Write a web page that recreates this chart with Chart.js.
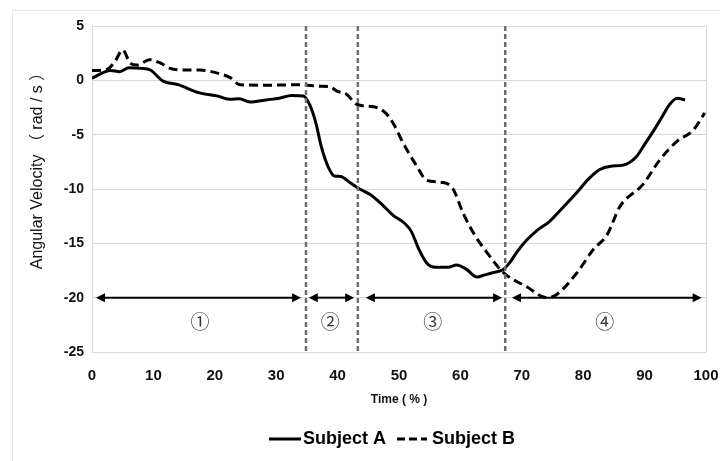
<!DOCTYPE html>
<html>
<head>
<meta charset="utf-8">
<script src="https://cdn.jsdelivr.net/npm/chart.js@4"></script>
<style>
  html, body { margin: 0; padding: 0; background: #fff; }
  #wrap { width: 720px; height: 461px; }
</style>
</head>
<body>
<div id="wrap"><canvas id="chart" width="720" height="461"></canvas></div>
<script>
// Subject A (solid) - time in %, angular velocity in rad/s
const timeA = [0, 2, 3, 4.5, 6, 8, 9.5, 11.5, 14, 17.5, 20.5, 22.5, 24, 25.7, 28.4, 30.5, 32.5, 34.4,
  35.5, 36.5, 37.3, 38.5, 39.5, 40.5, 42, 43.6, 45.3, 47, 49, 51, 52, 53.2, 54.5, 56, 58, 59.4,
  61, 62.7, 64, 65.3, 67, 68, 69.2, 70.8, 72.5, 74.5, 76.2, 79, 81, 82.7, 84.5, 86.5, 88.7, 90,
  91.4, 92.8, 94.1, 95.3, 96.6];
const subjectA = [0.2, 0.75, 0.9, 0.8, 1.15, 1.1, 0.95, -0.05, -0.4, -1.15, -1.45, -1.75, -1.7, -2.0, -1.8, -1.65, -1.4, -1.45,
  -2.3, -4.0, -6.0, -8.0, -8.8, -8.85, -9.4, -10.0, -10.5, -11.3, -12.4, -13.2, -13.9, -15.5, -16.8, -17.2, -17.2, -17.0,
  -17.4, -18.1, -17.9, -17.7, -17.4, -16.8, -15.8, -14.7, -13.8, -13.0, -12.0, -10.3, -9.0, -8.2, -7.9, -7.8, -7.0, -5.9,
  -4.7, -3.4, -2.2, -1.65, -1.8];

// Subject B (dashed)
const timeB = [0, 2.4, 3.7, 5, 6.2, 7.3, 9.4, 11.1, 12.7, 15, 17.6, 20.8, 22.5, 24.1, 28.5, 33.9, 37.1, 38.8,
  39.9, 41.5, 43.1, 46.4, 47.8, 49, 50.7, 52.9, 54.5, 57.2, 58.8, 60.5, 62.4, 64.8, 67, 70.8, 74.1, 75.7,
  79, 81.6, 83.9, 86, 89.7, 92.5, 95.3, 97.9, 99.8];
const subjectB = [0.9, 1.0, 1.7, 2.8, 1.6, 1.4, 1.9, 1.6, 1.1, 0.95, 0.95, 0.6, 0.25, -0.4, -0.45, -0.4, -0.55, -0.6,
  -1.0, -1.3, -2.2, -2.5, -3.0, -3.9, -5.8, -7.9, -9.2, -9.4, -10.0, -12.3, -14.3, -16.2, -17.7, -19.0, -20.0, -19.7,
  -17.7, -15.6, -14.2, -11.6, -9.6, -7.3, -5.6, -4.6, -3.0];

// phase boundaries, arrow spans and labels
const phaseBounds = [34.85, 43.3, 67.3];
const arrowStart = [0.65, 35.3, 44.6, 68.4];
const arrowEnd = [34.05, 42.7, 66.8, 99.3];
const arrowY = -20;
const phaseLabels = ['①', '②', '③', '④'];
const phaseLabelX = [17.6, 38.8, 55.5, 83.5];
const phaseLabelY = -22.2;

const yTicks = [5, 0, -5, -10, -15, -20, -25];
const xTicks = [0, 10, 20, 30, 40, 50, 60, 70, 80, 90, 100];

const seriesNames = ['Subject A', 'Subject B'];
const yTitle = 'Angular Velocity （ rad / s ）';
const xTitle = 'Time ( % )';

function toPoints(xs, ys) {
  return xs.map((x, i) => ({ x: x, y: ys[i] }));
}

const boundSets = phaseBounds.map(b => ({
  data: [{ x: b, y: 5 }, { x: b, y: -25 }],
  borderColor: '#6e6e6e',
  borderWidth: 2.5,
  borderDash: [5, 3],
  pointRadius: 0,
  order: 0
}));

// outer frame of the picture
const framePlugin = {
  id: 'frame',
  beforeDraw(chart) {
    const ctx = chart.ctx;
    ctx.save();
    ctx.strokeStyle = '#e6e6e6';
    ctx.lineWidth = 1;
    ctx.beginPath();
    ctx.moveTo(12.5, 461);
    ctx.lineTo(12.5, 10.5);
    ctx.lineTo(720, 10.5);
    ctx.stroke();
    ctx.restore();
  }
};

// arrows, circled phase numbers, y title
const phasePlugin = {
  id: 'phases',
  afterDatasetsDraw(chart) {
    const ctx = chart.ctx;
    const xs = chart.scales.x, ys = chart.scales.y;
    const py = ys.getPixelForValue(arrowY);
    const head = 9, half = 4.5;
    ctx.save();
    ctx.strokeStyle = '#000';
    ctx.fillStyle = '#000';
    ctx.lineWidth = 2;
    arrowStart.forEach((s, i) => {
      const x1 = xs.getPixelForValue(s);
      const x2 = xs.getPixelForValue(arrowEnd[i]);
      ctx.beginPath();
      ctx.moveTo(x1 + head - 1, py);
      ctx.lineTo(x2 - head + 1, py);
      ctx.stroke();
      ctx.beginPath();
      ctx.moveTo(x1, py);
      ctx.lineTo(x1 + head, py - half);
      ctx.lineTo(x1 + head, py + half);
      ctx.closePath();
      ctx.fill();
      ctx.beginPath();
      ctx.moveTo(x2, py);
      ctx.lineTo(x2 - head, py - half);
      ctx.lineTo(x2 - head, py + half);
      ctx.closePath();
      ctx.fill();
    });
    ctx.fillStyle = '#333';
    ctx.font = '19px "Noto Sans CJK JP", "DejaVu Sans", sans-serif';
    ctx.textAlign = 'center';
    ctx.textBaseline = 'middle';
    phaseLabels.forEach((t, i) => {
      ctx.fillText(t, xs.getPixelForValue(phaseLabelX[i]), ys.getPixelForValue(phaseLabelY));
    });

    ctx.save();
    ctx.translate(38, 167);
    ctx.rotate(-Math.PI / 2);
    ctx.fillStyle = '#111';
    ctx.font = '16px "Liberation Sans", "Noto Sans CJK JP", sans-serif';
    ctx.fillText(yTitle, 0, 0);
    ctx.restore();
    ctx.restore();
  }
};

// legend at the bottom
const legendPlugin = {
  id: 'bottomLegend',
  afterDraw(chart) {
    const ctx = chart.ctx;
    ctx.save();
    ctx.font = 'bold 18px "Liberation Sans", Arial, sans-serif';
    ctx.textBaseline = 'middle';
    ctx.textAlign = 'left';
    ctx.fillStyle = '#000';
    const wA = ctx.measureText(seriesNames[0]).width;
    const wB = ctx.measureText(seriesNames[1]).width;
    const lineLen = 32;
    const total = lineLen + 2 + wA + 11 + lineLen + 3 + wB;
    let x = 392 - total / 2;
    const y = 439;
    ctx.strokeStyle = '#000';
    ctx.lineWidth = 3;
    ctx.beginPath();
    ctx.moveTo(x, y);
    ctx.lineTo(x + lineLen, y);
    ctx.stroke();
    x += lineLen + 2;
    ctx.fillText(seriesNames[0], x, y);
    x += wA + 11;
    ctx.setLineDash([8, 4, 8, 4, 6, 3, 2, 20]);
    ctx.beginPath();
    ctx.moveTo(x, y);
    ctx.lineTo(x + lineLen, y);
    ctx.stroke();
    ctx.setLineDash([]);
    x += lineLen + 3;
    ctx.fillText(seriesNames[1], x, y);
    ctx.restore();
  }
};

new Chart(document.getElementById('chart'), {
  type: 'line',
  data: {
    datasets: [
      {
        label: seriesNames[0],
        data: toPoints(timeA, subjectA),
        borderColor: '#000',
        borderWidth: 3,
        pointRadius: 0,
        cubicInterpolationMode: 'monotone',
        order: 1
      },
      {
        label: seriesNames[1],
        data: toPoints(timeB, subjectB),
        borderColor: '#000',
        borderWidth: 3,
        borderDash: [9, 5],
        pointRadius: 0,
        cubicInterpolationMode: 'monotone',
        order: 2
      },
      ...boundSets
    ]
  },
  options: {
    responsive: false,
    animation: false,
    layout: { padding: { left: 0, right: 0, top: 26, bottom: 49 } },
    plugins: { legend: { display: false }, tooltip: { enabled: false } },
    scales: {
      x: {
        type: 'linear',
        min: 0,
        max: 100,
        afterFit(scale) {
          scale.height = 60;
          scale.paddingLeft = 0;
          scale.paddingRight = 14;
        },
        afterBuildTicks(scale) { scale.ticks = xTicks.map(v => ({ value: v })); },
        grid: {
          drawTicks: false,
          color: ctx => (ctx.tick && ctx.tick.value === 100) ? '#d9d9d9' : 'rgba(0,0,0,0)'
        },
        border: { display: false },
        ticks: {
          padding: 15,
          color: '#111',
          font: { family: '"Liberation Sans", Arial, sans-serif', size: 15, weight: 'bold' }
        },
        title: {
          display: true,
          text: xTitle,
          color: '#111',
          padding: { top: 0, bottom: 5 },
          font: { family: '"Liberation Sans", Arial, sans-serif', size: 12, weight: 'bold' }
        }
      },
      y: {
        min: -25,
        max: 5,
        afterFit(scale) { scale.width = 92; },
        afterBuildTicks(scale) { scale.ticks = yTicks.map(v => ({ value: v })); },
        grid: { drawTicks: false, color: '#d9d9d9', lineWidth: 1 },
        border: { display: true, color: '#d9d9d9', width: 1 },
        ticks: {
          padding: 8,
          color: '#111',
          font: { family: '"Liberation Sans", Arial, sans-serif', size: 14, weight: 'bold' }
        }
      }
    }
  },
  plugins: [framePlugin, phasePlugin, legendPlugin]
});
</script>
</body>
</html>
